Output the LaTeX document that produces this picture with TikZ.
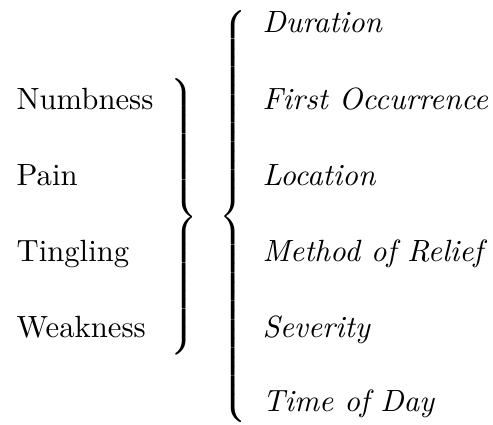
\documentclass[tikz,border=0pt]{standalone}
\usepackage{graphicx}
\delimiterfactor=1000
\delimitershortfall=0pt
\nulldelimiterspace=0pt
\tikzset{
  item/.style={anchor=base west, inner sep=0pt},
  lab/.style={item, font=\itshape},
  bracebox/.style={inner sep=0pt, anchor=center}
}
\newcommand{\rbr}[1]{$\left.\vcenter{\hbox{\rule{0pt}{#1}}}\right\}$}
\newcommand{\lbr}[1]{$\left\{\vcenter{\hbox{\rule{0pt}{#1}}}\right.$}
\begin{document}
\begin{tikzpicture}[x=0.3257pt, y=-0.3257pt]
\useasboundingbox (0,0) rectangle (493,425);
% left column
\node[item] (numb) at (16,110) {Numbness};
\node[item] (pain) at (16,186) {Pain};
\node[item] (ting) at (16,262) {Tingling};
\node[item] (weak) at (16,338) {Weakness};
% braces
\node[bracebox] (b1) at (184,217) {\rbr{87.6pt}};
\node[bracebox] (b2) at (233,217) {\scalebox{1}[1.017]{\lbr{129pt}}};
% right column
\node[lab] (dur) at (262,33) {Duration};
\node[lab] (first) at (262,110) {First Occurrence};
\node[lab] (loc) at (262,186) {Location};
\node[lab] (meth) at (262,262) {Method of Relief};
\node[lab] (sev) at (262,338) {Severity};
\node[lab] (time) at (262,412) {Time of Day};
\end{tikzpicture}
\end{document}
